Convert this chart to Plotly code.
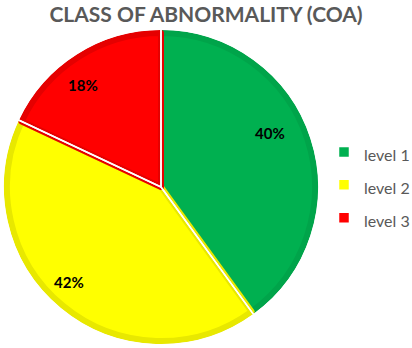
import math
import plotly.graph_objects as go

# Share of each abnormality class
levels = ["level 1", "level 2", "level 3"]
shares = [40, 42, 18]

fill_colors = ["#00B050", "#FFFF00", "#FF0000"]
edge_colors = ["#00A44A", "#E8E800", "#E50000"]

W, H = 412, 348
cx, cy, r = 161, 187, 154  # pie centre (px from top-left) and radius
rim = 6


def domain_for(radius):
    return dict(x=[(cx - radius) / W, (cx + radius) / W],
                y=[(H - cy - radius) / H, (H - cy + radius) / H])


font_family = "Lato, Carlito, sans-serif"

fig = go.Figure()

# Slices with darker rim
fig.add_trace(go.Pie(
    labels=levels,
    values=shares,
    sort=False,
    direction="clockwise",
    rotation=0,
    marker=dict(colors=fill_colors, line=dict(color=edge_colors, width=rim)),
    textinfo="none",
    showlegend=False,
    domain=domain_for(r),
    hoverinfo="label+percent",
))

# Thin white separators between slices (outer circle falls just outside the rim)
fig.add_trace(go.Pie(
    labels=levels,
    values=shares,
    sort=False,
    direction="clockwise",
    rotation=0,
    marker=dict(colors=["rgba(0,0,0,0)"] * 3, line=dict(color="#FFFFFF", width=1.5)),
    textinfo="none",
    showlegend=False,
    domain=domain_for(r + rim / 2 + 1),
    hoverinfo="skip",
))

# Legend entries (tiny hidden pie; white outline trims the swatches)
fig.add_trace(go.Pie(
    labels=[f"<span style='font-size:16px'>{t}</span>" for t in levels],
    values=shares,
    sort=False,
    marker=dict(colors=fill_colors, line=dict(color="#FFFFFF", width=2.5)),
    textinfo="none",
    domain=dict(x=[0.999, 1.0], y=[0.0, 0.001]),
    hoverinfo="skip",
    showlegend=True,
))

# Percentage labels placed along each slice's mid-angle
label_radius = 0.8
label_nudge = [(-10, -15), (-12, -2), (-11, 4)]  # px tweaks per slice (level 1, 2, 3)
total = sum(shares)
start = 0.0
for v, (dx, dy) in zip(shares, label_nudge):
    mid = (start + v / 2) / total * 2 * math.pi
    start += v
    px = cx + label_radius * (r + rim / 2) * math.sin(mid) + dx
    py = cy - label_radius * (r + rim / 2) * math.cos(mid) + dy
    fig.add_annotation(
        x=px / W, y=1 - py / H, xref="paper", yref="paper",
        text=f"<b>{round(v / total * 100)}%</b>",
        showarrow=False,
        font=dict(family=font_family, size=15, color="#000000"),
        xanchor="center", yanchor="middle",
    )

fig.update_layout(
    width=W,
    height=H,
    margin=dict(l=0, r=0, t=0, b=0, autoexpand=False),
    paper_bgcolor="#FFFFFF",
    plot_bgcolor="#FFFFFF",
    title=dict(
        text="<b>CLASS OF ABNORMALITY (COA)</b>",
        x=0.5, xanchor="center",
        y=1 - 15 / H, yanchor="middle",
        font=dict(family=font_family, size=21, color="#595959"),
    ),
    legend=dict(
        x=324 / W, xanchor="left",
        y=1 - 185 / H, yanchor="middle",
        font=dict(family=font_family, size=23, color="#595959"),
        bgcolor="rgba(0,0,0,0)",
        itemclick=False,
    ),
    showlegend=True,
)

fig.write_html("out.html")
